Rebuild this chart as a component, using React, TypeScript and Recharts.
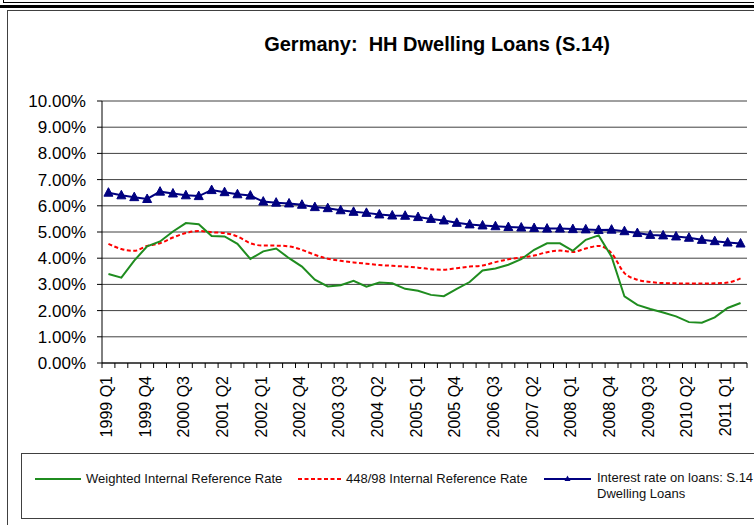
import React from 'react';
import { LineChart, Line, XAxis, YAxis, CartesianGrid } from 'recharts';

// quarterly categories, 1999 Q1 .. 2011 Q2
const QUARTERS = [
  '1999 Q1', '1999 Q2', '1999 Q3', '1999 Q4',
  '2000 Q1', '2000 Q2', '2000 Q3', '2000 Q4',
  '2001 Q1', '2001 Q2', '2001 Q3', '2001 Q4',
  '2002 Q1', '2002 Q2', '2002 Q3', '2002 Q4',
  '2003 Q1', '2003 Q2', '2003 Q3', '2003 Q4',
  '2004 Q1', '2004 Q2', '2004 Q3', '2004 Q4',
  '2005 Q1', '2005 Q2', '2005 Q3', '2005 Q4',
  '2006 Q1', '2006 Q2', '2006 Q3', '2006 Q4',
  '2007 Q1', '2007 Q2', '2007 Q3', '2007 Q4',
  '2008 Q1', '2008 Q2', '2008 Q3', '2008 Q4',
  '2009 Q1', '2009 Q2', '2009 Q3', '2009 Q4',
  '2010 Q1', '2010 Q2', '2010 Q3', '2010 Q4',
  '2011 Q1', '2011 Q2',
];

// values in percent
const WEIGHTED_RATE = [
  3.40, 3.26, 3.91, 4.45, 4.64, 5.02, 5.34, 5.30, 4.85, 4.83,
  4.55, 3.97, 4.26, 4.37, 4.00, 3.68, 3.18, 2.92, 2.97, 3.14,
  2.91, 3.07, 3.04, 2.83, 2.76, 2.60, 2.55, 2.83, 3.09, 3.53,
  3.61, 3.75, 3.96, 4.32, 4.57, 4.57, 4.28, 4.70, 4.87, 4.06,
  2.54, 2.22, 2.06, 1.93, 1.78, 1.56, 1.54, 1.74, 2.10, 2.29,
];

const RATE_448_98 = [
  4.55, 4.35, 4.28, 4.47, 4.57, 4.79, 4.96, 5.04, 4.99, 4.96,
  4.83, 4.57, 4.48, 4.48, 4.45, 4.32, 4.13, 3.98, 3.90, 3.84,
  3.79, 3.74, 3.71, 3.68, 3.64, 3.58, 3.56, 3.62, 3.68, 3.72,
  3.85, 3.96, 4.03, 4.10, 4.23, 4.29, 4.24, 4.37, 4.47, 4.19,
  3.43, 3.18, 3.09, 3.05, 3.04, 3.03, 3.03, 3.04, 3.07, 3.23,
];

const S14_LOAN_RATE = [
  6.50, 6.40, 6.33, 6.26, 6.54, 6.47, 6.40, 6.37, 6.60, 6.52,
  6.44, 6.39, 6.16, 6.12, 6.09, 6.04, 5.95, 5.91, 5.83, 5.77,
  5.73, 5.67, 5.63, 5.62, 5.57, 5.50, 5.44, 5.35, 5.29, 5.25,
  5.22, 5.19, 5.17, 5.15, 5.13, 5.13, 5.11, 5.10, 5.08, 5.09,
  5.03, 4.96, 4.89, 4.87, 4.83, 4.78, 4.70, 4.65, 4.60, 4.56,
];

const Y_TICKS = [0, 1, 2, 3, 4, 5, 6, 7, 8, 9, 10];

const W = 754;
const H = 525;
const PLOT_LEFT = 102;
const PLOT_RIGHT = 747;
const PLOT_TOP = 101;
const PLOT_BOTTOM = 363;
const X_AXIS_H = 60;
const STEP = (PLOT_RIGHT - PLOT_LEFT) / QUARTERS.length;

const FONT = '"Liberation Sans", Arial, Helvetica, sans-serif';

const data = QUARTERS.map((q, i) => ({
  q,
  weighted: WEIGHTED_RATE[i],
  ref448: RATE_448_98[i],
  s14: S14_LOAN_RATE[i],
}));

// category ticks sit between quarters (Excel style), label every 3rd quarter
function QuarterTick(props: any) {
  const { x, y, payload } = props;
  const i = QUARTERS.indexOf(payload.value);
  const isLast = i === QUARTERS.length - 1;
  const ly = y + 13;
  const lx = x - 2;
  return (
    <g>
      <line x1={x - STEP / 2} x2={x - STEP / 2} y1={y} y2={y + 5} stroke="#000" />
      {isLast && <line x1={x + STEP / 2} x2={x + STEP / 2} y1={y} y2={y + 5} stroke="#000" />}
      {i % 3 === 0 && (
        <text
          x={lx}
          y={ly}
          transform={`rotate(-90, ${lx}, ${ly})`}
          textAnchor="end"
          dominantBaseline="central"
          fontSize={16}
          fontFamily={FONT}
          fill="#000"
        >
          {payload.value}
        </text>
      )}
    </g>
  );
}

function TriangleDot(props: any) {
  const { cx, cy, index } = props;
  if (cx == null || cy == null) return <g key={`tri-${index}`} />;
  return (
    <polygon
      key={`tri-${index}`}
      points={`${cx},${cy - 5} ${cx - 4.5},${cy + 3.5} ${cx + 4.5},${cy + 3.5}`}
      fill="#000080"
      stroke="#000080"
    />
  );
}

export default function App() {
  return (
    <div
      style={{
        position: 'absolute',
        left: 0,
        top: 0,
        width: W,
        height: H,
        overflow: 'hidden',
        background: '#fff',
        fontFamily: FONT,
      }}
    >
      {/* page rules above the chart frame */}
      <div style={{ position: 'absolute', left: 3, top: 2, width: W, height: 1, background: '#000' }} />
      <div style={{ position: 'absolute', left: 3, top: 0, width: 1, height: 3, background: '#000' }} />
      <div style={{ position: 'absolute', left: 0, top: 5, width: W, height: 3, background: '#000' }} />
      <div
        style={{
          position: 'absolute',
          left: 7,
          top: 10,
          width: W,
          height: H,
          borderLeft: '1.5px solid #404040',
          borderTop: '1.5px solid #404040',
        }}
      />

      <div
        style={{
          position: 'absolute',
          left: 237,
          top: 34,
          width: 400,
          textAlign: 'center',
          fontSize: 20,
          lineHeight: '20px',
          fontWeight: 'bold',
          color: '#000',
          whiteSpace: 'nowrap',
        }}
      >
        Germany:&nbsp; HH Dwelling Loans (S.14)
      </div>

      <div style={{ position: 'absolute', left: 0, top: 0 }}>
        <LineChart
          width={W}
          height={H}
          data={data}
          margin={{ top: PLOT_TOP, right: W - PLOT_RIGHT, left: 0, bottom: H - PLOT_BOTTOM - X_AXIS_H }}
        >
          <CartesianGrid vertical={false} stroke="#404040" strokeWidth={1} />
          <XAxis
            dataKey="q"
            interval={0}
            height={X_AXIS_H}
            tickSize={0}
            tickMargin={0}
            tickLine={false}
            axisLine={{ stroke: '#000' }}
            padding={{ left: STEP / 2, right: STEP / 2 }}
            tick={<QuarterTick />}
          />
          <YAxis
            width={PLOT_LEFT}
            domain={[0, 10]}
            ticks={Y_TICKS}
            tickFormatter={(v: number) => `${v.toFixed(2)}%`}
            tick={{ fontSize: 17, fill: '#000', fontFamily: FONT }}
            tickSize={5}
            tickMargin={11}
            tickLine={{ stroke: '#000' }}
            axisLine={{ stroke: '#000' }}
          />
          <Line
            dataKey="ref448"
            type="monotone"
            stroke="#ff0000"
            strokeWidth={2}
            strokeDasharray="4 2.5"
            dot={false}
            isAnimationActive={false}
          />
          <Line
            dataKey="weighted"
            type="linear"
            stroke="#1f8c1f"
            strokeWidth={2}
            dot={false}
            isAnimationActive={false}
          />
          <Line
            dataKey="s14"
            type="linear"
            stroke="#000080"
            strokeWidth={2}
            dot={(p: any) => <TriangleDot key={`tri-${p.index}`} {...p} />}
            isAnimationActive={false}
          />
        </LineChart>
      </div>

      {/* legend */}
      <div
        style={{
          position: 'absolute',
          left: 21,
          top: 453,
          width: W,
          height: 64,
          borderLeft: '1.5px solid #404040',
          borderBottom: '1.5px solid #404040',
          borderTop: '1px solid #404040',
        }}
      />
      <svg style={{ position: 'absolute', left: 0, top: 0 }} width={W} height={H} pointerEvents="none">
        <line x1={35} x2={81} y1={479} y2={479} stroke="#1f8c1f" strokeWidth={2} />
        <line x1={298} x2={342} y1={479} y2={479} stroke="#ff0000" strokeWidth={2} strokeDasharray="4 2.5" />
        <line x1={544} x2={591} y1={479} y2={479} stroke="#000080" strokeWidth={2} />
        <polygon points="567.5,475.5 564.5,481 570.5,481" fill="#000080" />
      </svg>
      <div style={{ position: 'absolute', left: 86, top: 471, fontSize: 13, lineHeight: '16px', color: '#111', whiteSpace: 'nowrap' }}>
        Weighted Internal Reference Rate
      </div>
      <div style={{ position: 'absolute', left: 346, top: 471, fontSize: 13, lineHeight: '16px', color: '#111', whiteSpace: 'nowrap' }}>
        448/98 Internal Reference Rate
      </div>
      <div style={{ position: 'absolute', left: 597, top: 470, fontSize: 13, lineHeight: '16px', color: '#111', whiteSpace: 'nowrap' }}>
        Interest rate on loans: S.14
        <br />
        Dwelling Loans
      </div>
    </div>
  );
}
